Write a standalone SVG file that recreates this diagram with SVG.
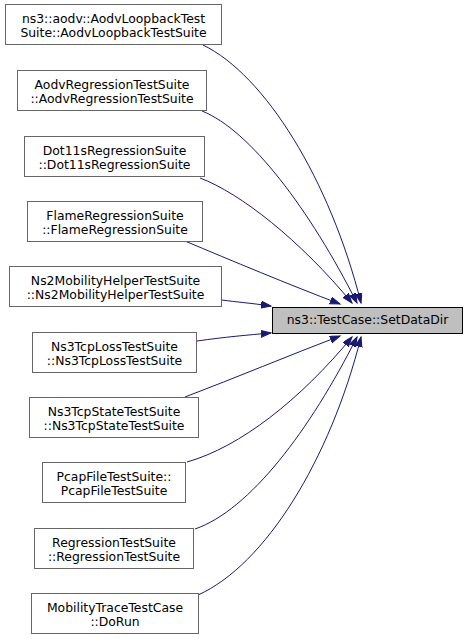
<svg xmlns="http://www.w3.org/2000/svg" width="469" height="639" viewBox="0 0 469 639">
<style>
.n rect{fill:#ffffff;stroke:#666666;stroke-width:1}
.t rect{fill:#bfbfbf;stroke:#000000;stroke-width:1}
text{font-family:"DejaVu Sans","Liberation Sans",sans-serif;font-size:12.4px;fill:#000000;text-anchor:middle}
.e path{fill:none;stroke:#191970;stroke-width:1}
</style>
<defs>
<marker id="ah" markerUnits="userSpaceOnUse" markerWidth="12" markerHeight="9" refX="10" refY="3.5" orient="auto">
<path d="M0,0 L10,3.5 L0,7 z" fill="#191970" stroke="#191970"/>
</marker>
</defs>
<g id="edges" class="e">
<path d="M203,45 C265,75 330,180 361,303" marker-end="url(#ah)"/>
<path d="M202,111 C250,130 310,210 357,303" marker-end="url(#ah)"/>
<path d="M200,178 C240,193 300,240 352,303" marker-end="url(#ah)"/>
<path d="M185,241 C230,260 290,285 340,304" marker-end="url(#ah)"/>
<path d="M222,300 C236,302 250,303 271,306" marker-end="url(#ah)"/>
<path d="M197,341 C225,337 248,335 271,333" marker-end="url(#ah)"/>
<path d="M185,397 C235,378 290,355 340,336" marker-end="url(#ah)"/>
<path d="M187,462 C240,447 300,400 352,337" marker-end="url(#ah)"/>
<path d="M195,529 C250,510 310,430 357,337" marker-end="url(#ah)"/>
<path d="M198,595 C265,565 330,460 361,337" marker-end="url(#ah)"/>
</g>
<g id="target" class="t">
<rect x="272.5" y="307.5" width="190" height="26"/>
<text x="367.5" y="324">ns3::TestCase::SetDataDir</text>
</g>
<g id="n1" class="n">
<rect x="5.5" y="4.5" width="216" height="40"/>
<text x="113.5" y="23">ns3::aodv::AodvLoopbackTest</text>
<text x="113.5" y="37">Suite::AodvLoopbackTestSuite</text>
</g>
<g id="n2" class="n">
<rect x="17.5" y="70.5" width="189" height="40"/>
<text x="112" y="89">AodvRegressionTestSuite</text>
<text x="112" y="103">::AodvRegressionTestSuite</text>
</g>
<g id="n3" class="n">
<rect x="24.5" y="136.5" width="180" height="40"/>
<text x="114.5" y="155">Dot11sRegressionSuite</text>
<text x="114.5" y="169">::Dot11sRegressionSuite</text>
</g>
<g id="n4" class="n">
<rect x="27.5" y="201.5" width="175" height="40"/>
<text x="115" y="220">FlameRegressionSuite</text>
<text x="115" y="234">::FlameRegressionSuite</text>
</g>
<g id="n5" class="n">
<rect x="9.5" y="266.5" width="212" height="40"/>
<text x="115.5" y="285">Ns2MobilityHelperTestSuite</text>
<text x="115.5" y="299">::Ns2MobilityHelperTestSuite</text>
</g>
<g id="n6" class="n">
<rect x="32.5" y="332.5" width="164" height="40"/>
<text x="114.5" y="351">Ns3TcpLossTestSuite</text>
<text x="114.5" y="365">::Ns3TcpLossTestSuite</text>
</g>
<g id="n7" class="n">
<rect x="29.5" y="397.5" width="169" height="40"/>
<text x="114" y="416">Ns3TcpStateTestSuite</text>
<text x="114" y="430">::Ns3TcpStateTestSuite</text>
</g>
<g id="n8" class="n">
<rect x="42.5" y="462.5" width="143" height="40"/>
<text x="114" y="481">PcapFileTestSuite::</text>
<text x="114" y="495">PcapFileTestSuite</text>
</g>
<g id="n9" class="n">
<rect x="34.5" y="528.5" width="159" height="40"/>
<text x="114" y="547">RegressionTestSuite</text>
<text x="114" y="561">::RegressionTestSuite</text>
</g>
<g id="n10" class="n">
<rect x="31.5" y="593.5" width="167" height="40"/>
<text x="115" y="612">MobilityTraceTestCase</text>
<text x="115" y="626">::DoRun</text>
</g>
</svg>
